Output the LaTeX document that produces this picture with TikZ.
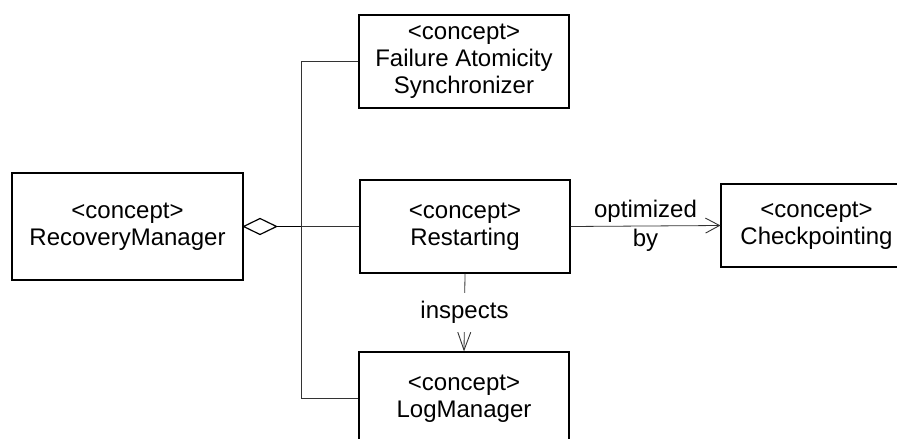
\documentclass[tikz,border=0pt]{standalone}
\usepackage{fontspec}
\setmainfont{Liberation Sans}
\usetikzlibrary{arrows.meta}

\begin{document}
\begin{tikzpicture}[x=1pt,y=-1pt,
  concept/.style={draw=black, line width=1.1pt, fill=white, align=center,
    inner sep=0pt, font=\fontsize{24}{27}\selectfont},
  link/.style={draw=black!80, line width=0.8pt},
  lbl/.style={font=\fontsize{24}{26}\selectfont, align=center, inner sep=0pt},
  openarrow/.style={-{Straight Barb[length=14pt,width=15pt,line width=0.9pt]}}
]
\clip (0,0) rectangle (897,439);
\fill[white] (0,0) rectangle (897,439);

% concept boxes
\node[concept, minimum width=231pt, minimum height=107pt] (rm) at (127.5,226.5)
  {<concept>\\RecoveryManager};
\node[concept, minimum width=210pt, minimum height=93pt] (fas) at (464,61.5)
  {<concept>\\Failure Atomicity\\Synchronizer};
\node[concept, minimum width=210pt, minimum height=93pt] (rs) at (465,226.5)
  {<concept>\\Restarting};
\node[concept, minimum width=191pt, minimum height=83pt] (cp) at (816.5,225.5)
  {<concept>\\Checkpointing};
\node[concept, minimum width=210pt, minimum height=93pt] (lm) at (464,398.5)
  {<concept>\\LogManager};

% aggregation: open diamond at RecoveryManager, branching to the three parts
\coordinate (j) at (301,226.5);
\coordinate (dtip) at ([xshift=33pt]rm.east);
\draw[line width=1.8pt] (dtip) -- (j);
\draw[line width=1.2pt, line join=miter, fill=white]
  (rm.east) -- ([xshift=16.5pt, yshift=8pt]rm.east) -- (dtip)
  -- ([xshift=16.5pt, yshift=-8pt]rm.east) -- cycle;
\draw[link] (j) -- (rs.west);
\draw[link] (fas.west) -- (fas.west -| j) -- (lm.west -| j) -- (lm.west);

% optimized by
\draw[link, openarrow] (rs.east) --
  node[lbl, anchor=base, yshift=9pt] {optimized}
  node[lbl, anchor=base, yshift=-20pt] {by} (cp.west);

% inspects
\draw[link, -{Straight Barb[length=18pt,width=13pt,line width=0.9pt]}]
  (rs.south) -- node[lbl, fill=white, inner xsep=3pt, inner ysep=8pt] {inspects} (lm.north);
\end{tikzpicture}
\end{document}
